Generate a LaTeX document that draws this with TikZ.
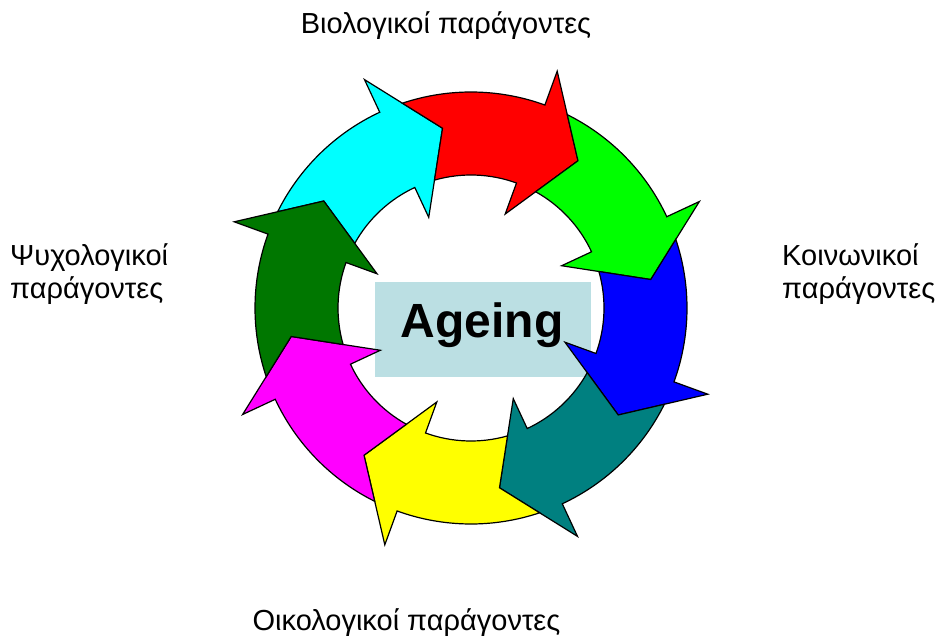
\documentclass[tikz,border=0pt]{standalone}
\usepackage{fontspec}
\setmainfont{Liberation Sans}
\usepackage{xcolor}
\usepackage{tikz}
\definecolor{boxblue}{HTML}{BBDFE3}
\definecolor{leafgreen}{HTML}{007700}
\definecolor{skycyan}{HTML}{00FFFF}
\definecolor{pinkmag}{HTML}{FF00FF}
\definecolor{sunyellow}{HTML}{FFFF00}
\definecolor{limegreen}{HTML}{00FF00}
\definecolor{pureblue}{HTML}{0000FF}
\definecolor{purered}{HTML}{FF0000}
\definecolor{darkteal}{HTML}{008080}
\tikzset{ ring_arrow/.style = {draw=black, line width=1.2pt, line join=miter} }
\tikzset{ factor/.style = {font=\fontsize{29}{33}\selectfont, inner sep=0pt} }

\begin{document}
\begin{tikzpicture}[x=1pt,y=1pt]
    \useasboundingbox (0,0) rectangle (936,638);
    \node [fill=boxblue, minimum width=216, minimum height=95, inner sep=0pt] (box) at (483,308.5) {};
    \node [font=\fontsize{48}{52}\selectfont\bfseries, anchor=base, inner sep=0pt] (age) at (482,301) {Ageing};
    \begin{scope}[shift={(471,330)}]
        \foreach \a/\c in {115/skycyan,70/purered,25/limegreen,-20/pureblue,-65/darkteal,-110/sunyellow,-155/pinkmag,-200/leafgreen} {
            \draw [ring_arrow, fill=\c] (\a+38.53:216) arc[start angle=\a+38.53, end angle=\a, radius=216]
                -- (\a:252) -- (\a-16:182) -- (\a:100) -- (\a:133)
                arc[start angle=\a, end angle=\a+35.93, radius=133] -- (\a+29:182) -- cycle;
        }
    \end{scope}
    \node [factor, anchor=base] (bio) at (446,604) {Βιολογικοί παράγοντες};
    \node [factor, anchor=west, align=left] (soc) at (782,364) {Κοινωνικοί\\παράγοντες};
    \node [factor, anchor=base] (eco) at (406.5,8) {Οικολογικοί παράγοντες};
    \node [factor, anchor=west, align=left] (psy) at (10,364) {Ψυχολογικοί\\παράγοντες};
\end{tikzpicture}
\end{document}
